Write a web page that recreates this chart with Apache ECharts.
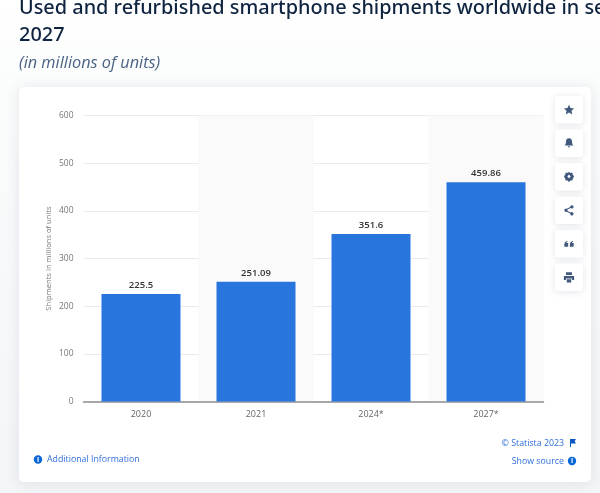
<!DOCTYPE html>
<html>
<head>
<meta charset="utf-8">
<style>
  html, body { margin: 0; padding: 0; background: #fff; }
  #main { width: 600px; height: 493px; }
</style>
<script src="https://cdn.jsdelivr.net/npm/echarts@6/dist/echarts.min.js"></script>
</head>
<body>
<div id="main"></div>
<script>
var categories = ['2020', '2021', '2024*', '2027*'];
var shipments = [225.5, 251.09, 351.6, 459.86];
var yTicks = [0, 100, 200, 300, 400, 500, 600];

var titleLines = ['Used and refurbished smartphone shipments worldwide in selected years from 2020 to', '2027'];
var subtitle = '(in millions of units)';
var yAxisName = 'Shipments in millions of units';

var myChart = echarts.init(document.getElementById('main'));

// 右侧图标按钮，graphic组件没有path类型，要先注册
var iconPaths = [
    'M6 0 L7.8 3.9 L12 4.4 L8.9 7.2 L9.7 11.4 L6 9.3 L2.3 11.4 L3.1 7.2 L0 4.4 L4.2 3.9 Z',
    'M6 0 C8.6 0 9.6 2 9.6 4.4 C9.6 6.6 10.4 7.6 11.2 8.6 L0.8 8.6 C1.6 7.6 2.4 6.6 2.4 4.4 C2.4 2 3.4 0 6 0 Z M4.6 9.6 L7.4 9.6 C7.4 11.4 4.6 11.4 4.6 9.6 Z',
    'M6 0 L7.4 1.4 L9.8 1 L10.4 3.3 L12 5.5 L10.6 7.6 L10.2 10 L7.8 10.4 L6 12 L4.2 10.4 L1.8 10 L1.4 7.6 L0 5.5 L1.6 3.3 L2.2 1 L4.6 1.4 Z M6 3.4 L4 5.5 L6 7.8 L8 5.5 Z',
    'M9.5 0 A2 2 0 1 1 8 3.4 L4.2 5.2 A2 2 0 0 1 4.2 6.8 L8 8.6 A2 2 0 1 1 7.4 9.8 L3.4 7.8 A2 2 0 1 1 3.4 4.2 L7.4 2.2 A2 2 0 0 1 9.5 0 Z',
    'M0.5 7 C0.5 4.5 1.8 3 4 2.6 L4.4 3.6 C3.4 4 2.9 4.6 2.8 5.2 L5 5.2 L5 9.4 L0.5 9.4 Z M7 7 C7 4.5 8.3 3 10.5 2.6 L10.9 3.6 C9.9 4 9.4 4.6 9.3 5.2 L11.5 5.2 L11.5 9.4 L7 9.4 Z',
    'M2.5 0 L9.5 0 L9.5 3.4 L2.5 3.4 Z M0 4.4 L12 4.4 L12 9.2 L9.6 9.2 L9.6 7.4 L2.4 7.4 L2.4 9.2 L0 9.2 Z M3.4 8.4 L8.6 8.4 L8.6 12 L3.4 12 Z'
];
var buttonTops = [96, 129.5, 163, 196.5, 230, 263.5];

iconPaths.forEach(function (d, i) {
    echarts.graphic.registerShape('btnIcon' + i, echarts.graphic.extendPath(d, {}));
});
echarts.graphic.registerShape('flagIcon', echarts.graphic.extendPath('M0 0 L6 0 L4.6 2.2 L6 4.6 L1 4.6 L1 8 L0 8 Z', {}));

var graphics = [
    // 页面背景和卡片
    { type: 'rect', z: -10, shape: { x: 0, y: 0, width: 600, height: 493 },
      style: { fill: new echarts.graphic.LinearGradient(0, 0, 0, 1, [
          { offset: 0, color: '#ffffff' }, { offset: 0.16, color: '#fbfcfc' }, { offset: 1, color: '#f3f5f7' }]) } },
    { type: 'rect', z: -9, shape: { x: 19, y: 87, width: 572, height: 395, r: 5 },
      style: { fill: '#ffffff', shadowBlur: 14, shadowColor: 'rgba(70,90,120,0.14)', shadowOffsetY: 1 } },
    // 标题
    { type: 'text', x: 19, y: -2, style: { text: titleLines[0], font: '500 19.9px "Noto Sans"', fill: '#0f2440' } },
    { type: 'text', x: 19, y: 25, style: { text: titleLines[1], font: '500 19.9px "Noto Sans"', fill: '#0f2440' } },
    { type: 'text', x: 19, y: 55, style: { text: subtitle, font: 'italic 16.3px "Open Sans"', fill: '#4a6283' } },
    // 页脚
    { type: 'circle', shape: { cx: 38, cy: 459.5, r: 4.2 }, style: { fill: '#0666d6' } },
    { type: 'text', x: 38, y: 459.5, style: { text: 'i', font: 'bold 7px "Open Sans"', fill: '#fff', align: 'center', verticalAlign: 'middle' } },
    { type: 'text', x: 47, y: 459.5, style: { text: 'Additional Information', font: '8.8px "Open Sans"', fill: '#2f6fdb', verticalAlign: 'middle' } },
    { type: 'text', x: 564, y: 443, style: { text: '© Statista 2023', font: '8.8px "Open Sans"', fill: '#2f6fdb', align: 'right', verticalAlign: 'middle' } },
    { type: 'flagIcon', x: 570, y: 439, style: { fill: '#0a58c2' } },
    { type: 'text', x: 564, y: 461, style: { text: 'Show source', font: '8.8px "Open Sans"', fill: '#2f6fdb', align: 'right', verticalAlign: 'middle' } },
    { type: 'circle', shape: { cx: 572, cy: 461, r: 4.2 }, style: { fill: '#0666d6' } },
    { type: 'text', x: 572, y: 461, style: { text: 'i', font: 'bold 7px "Open Sans"', fill: '#fff', align: 'center', verticalAlign: 'middle' } }
];

buttonTops.forEach(function (top, i) {
    graphics.push({ type: 'rect', shape: { x: 555, y: top, width: 28, height: 27.5, r: 3 },
        style: { fill: '#fff', shadowBlur: 7, shadowColor: 'rgba(70,90,120,0.16)', shadowOffsetY: 1 } });
    graphics.push({ type: 'btnIcon' + i, x: 563.9, y: top + 8.7, scaleX: 0.85, scaleY: 0.85,
        style: { fill: '#41597c' } });
});

var option = {
    animation: false,
    textStyle: { fontFamily: '"Open Sans"' },
    graphic: graphics,
    grid: { left: 83.5, right: 56.5, top: 115.5, bottom: 91.5 },
    xAxis: {
        type: 'category',
        data: categories,
        axisTick: { show: false },
        axisLine: { lineStyle: { color: '#8f8f8f', width: 1.5 } },
        axisLabel: { color: '#666', fontSize: 9, margin: 8 },
        splitArea: { show: true, areaStyle: { color: ['rgba(255,255,255,0)', '#fafafa'] } }
    },
    yAxis: {
        type: 'value',
        min: yTicks[0],
        max: yTicks[yTicks.length - 1],
        interval: 100,
        name: yAxisName,
        nameLocation: 'middle',
        nameGap: 31,
        nameMoveOverlap: false,
        nameTextStyle: { color: '#777', fontSize: 7.6 },
        axisLine: { show: false },
        axisTick: { show: false },
        axisLabel: { color: '#777', fontSize: 8.5, margin: 10 },
        splitLine: { lineStyle: { color: '#ebebeb', width: 1 } }
    },
    series: [{
        type: 'bar',
        data: shipments,
        barWidth: 79,
        itemStyle: { color: '#2876dd' },
        label: { show: true, position: 'top', distance: 4, color: '#333', fontSize: 9.5, fontWeight: 600 }
    }]
};

myChart.setOption(option);
</script>
</body>
</html>
